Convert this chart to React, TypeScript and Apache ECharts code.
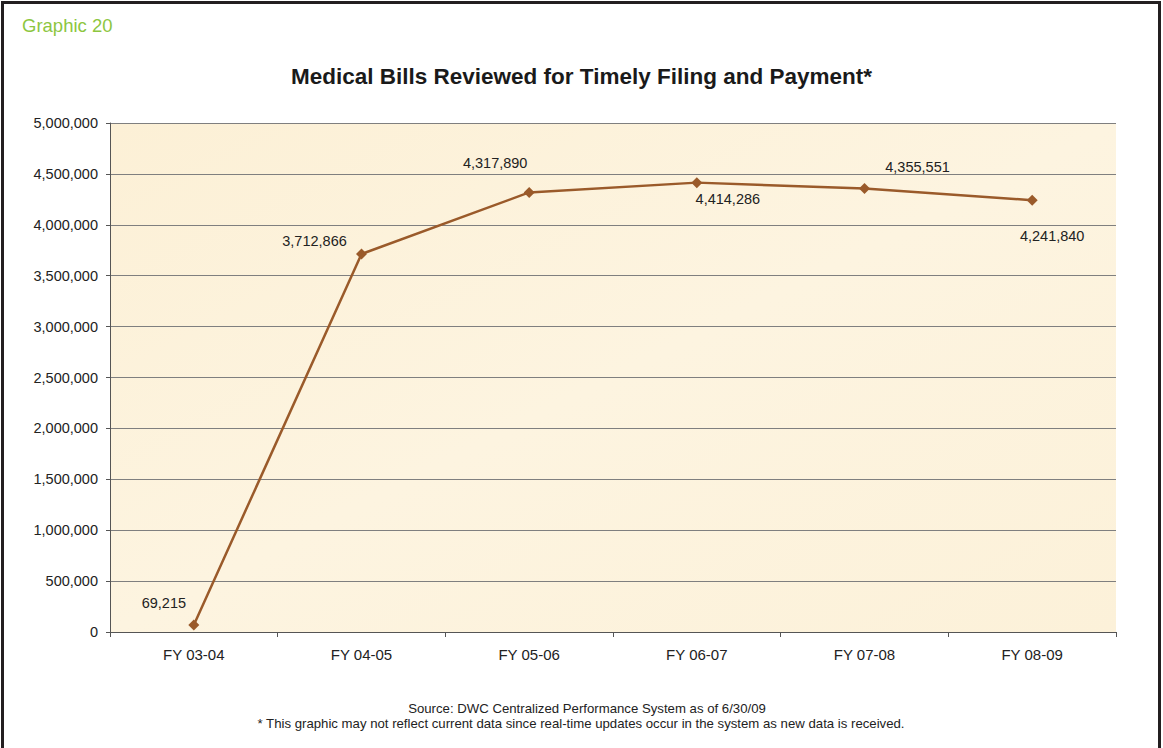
import React, { useEffect, useRef } from "react";
import * as echarts from "echarts";

const categories = ["FY 03-04", "FY 04-05", "FY 05-06", "FY 06-07", "FY 07-08", "FY 08-09"];
const values = [69215, 3712866, 4317890, 4414286, 4355551, 4241840];
const labelOffsets: [number, number][] = [
  [-30, -22],
  [-47, -13],
  [-34, -29],
  [31, 16],
  [53, -22],
  [20, 36],
];
const titleText = "Medical Bills Reviewed for Timely Filing and Payment*";
const graphicLabel = "Graphic 20";
const footer1 = "Source: DWC Centralized Performance System as of 6/30/09";
const footer2 = "* This graphic may not reflect current data since real-time updates occur in the system as new data is received.";

const FONT = "'Liberation Sans', Arial, sans-serif";

export default function App() {
  const ref = useRef<HTMLDivElement>(null);
  useEffect(() => {
    if (!ref.current) return;
    const chart = echarts.init(ref.current, null, { renderer: "svg" });
    const fmt = (v: number) => v.toLocaleString("en-US");
    chart.setOption({
      animation: false,
      backgroundColor: "#ffffff",
      textStyle: { fontFamily: FONT },
      title: {
        text: titleText,
        left: "center",
        top: 60,
        textStyle: { fontSize: 22.5, fontWeight: "bold", color: "#1a1a1a", fontFamily: FONT },
      },
      graphic: [
        {
          type: "rect",
          shape: { x: 2.5, y: 2.5, width: 1157, height: 800 },
          style: { fill: "none", stroke: "#231f20", lineWidth: 3 },
          z: 10,
        },
        {
          type: "text",
          left: 22,
          top: 16,
          style: { text: graphicLabel, fill: "#8dc63f", fontSize: 18.5, fontFamily: FONT },
        },
        {
          type: "text",
          x: 587,
          y: 702,
          style: { text: footer1, fill: "#222", fontSize: 13.2, fontFamily: FONT, textAlign: "center" },
        },
        {
          type: "text",
          x: 581,
          y: 717,
          style: { text: footer2, fill: "#222", fontSize: 13.2, fontFamily: FONT, textAlign: "center" },
        },
      ],
      grid: {
        left: 110,
        top: 123,
        right: 47,
        bottom: 116,
        show: true,
        backgroundColor: {
          type: "linear",
          x: 0,
          y: 0,
          x2: 1,
          y2: 1,
          colorStops: [
            { offset: 0, color: "#fcf0d6" },
            { offset: 0.5, color: "#fdf4e0" },
            { offset: 1, color: "#fcf1d9" },
          ],
        },
        borderWidth: 0,
      },
      xAxis: {
        type: "category",
        data: categories,
        boundaryGap: true,
        axisLine: { lineStyle: { color: "#555", width: 1 } },
        axisTick: { show: true, length: 5, lineStyle: { color: "#555" } },
        axisLabel: { color: "#222", fontSize: 15, margin: 15, fontFamily: FONT },
      },
      yAxis: {
        type: "value",
        min: 0,
        max: 5000000,
        interval: 500000,
        axisLine: { show: true, lineStyle: { color: "#555", width: 1 } },
        axisTick: { show: true, length: 4, lineStyle: { color: "#555" } },
        axisLabel: { color: "#222", fontSize: 14.5, margin: 12, formatter: (v: number) => fmt(v), fontFamily: FONT },
        splitLine: { lineStyle: { color: "#7f7f7f", width: 1 } },
      },
      series: [
        {
          type: "line",
          data: values.map((v, i) => ({
            value: v,
            label: {
              show: true,
              position: ["50%", "50%"],
              offset: labelOffsets[i],
              align: "center",
              verticalAlign: "middle",
              formatter: () => fmt(v),
              color: "#222",
              fontSize: 14.5,
              fontFamily: FONT,
            },
          })),
          symbol: "diamond",
          symbolSize: 11,
          lineStyle: { color: "#9a5a2a", width: 2.5 },
          itemStyle: { color: "#9a5a2a" },
        },
      ],
    });
    return () => chart.dispose();
  }, []);
  return (
    <div
      ref={ref}
      style={{ position: "absolute", left: 0, top: 0, width: 1163, height: 748 }}
    />
  );
}
